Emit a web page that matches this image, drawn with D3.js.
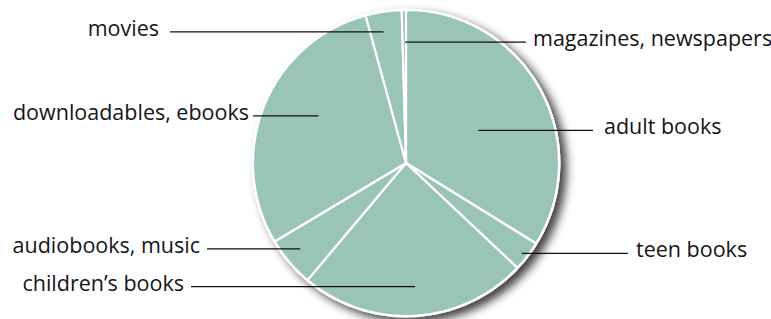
<!DOCTYPE html>
<html>
<head>
<meta charset="utf-8">
<script src="https://cdn.jsdelivr.net/npm/d3@7"></script>
<style>
  html, body { margin: 0; padding: 0; background: #fff; }
  svg { display: block; }
  text { font-family: "Open Sans", "Noto Sans", sans-serif; font-size: 21.5px; fill: #151515; }
</style>
</head>
<body>
<svg id="chart" width="771" height="319"></svg>
<script>
// Data (share of total, %), clockwise from 12 o'clock
const categories = ["adult books", "teen books", "children\u2019s books", "audiobooks, music", "downloadables, ebooks", "movies", "magazines, newspapers"];
const values = [33.8, 3.2, 24.1, 5.3, 29.3, 3.8, 0.45];

// Label layout (annotation only)
const labelSide = ["right", "right", "left", "left", "left", "left", "right"];
const labelAnchorT = [0.54, 0.54, 0.49, 0.57, 0.56, 0.41, 0.75]; // fraction across slice angle
const labelAnchorR = [0.52, 0.96, 0.81, 0.89, 0.65, 0.87, 0.79]; // fraction of radius
const labelLineEnd = [593, 628, 191, 207, 253, 170, 526];
const labelGap = [11, 8, 7, 7, 4, 11, 7];

const svg = d3.select("#chart");
const cx = 406, cy = 163, R = 153;

const defs = svg.append("defs");
const f = defs.append("filter").attr("id", "shadow")
  .attr("x", "-20%").attr("y", "-20%").attr("width", "140%").attr("height", "140%");
f.append("feGaussianBlur").attr("in", "SourceAlpha").attr("stdDeviation", 5).attr("result", "blur");
f.append("feOffset").attr("in", "blur").attr("dx", 6).attr("dy", 5).attr("result", "off");
f.append("feComponentTransfer").attr("in", "off").attr("result", "sh")
  .append("feFuncA").attr("type", "linear").attr("slope", 0.75);
const m = f.append("feMerge");
m.append("feMergeNode").attr("in", "sh");
m.append("feMergeNode").attr("in", "SourceGraphic");

const g = svg.append("g").attr("transform", `translate(${cx},${cy})`);

const pie = d3.pie().sort(null).value(d => d);
const arcs = pie(values);
const arc = d3.arc().innerRadius(0).outerRadius(R);

// background disc with white rim and shadow
g.append("circle").attr("r", R + 1.5).attr("fill", "#fff").attr("filter", "url(#shadow)");

g.selectAll("path.slice").data(arcs).enter().append("path")
  .attr("class", "slice")
  .attr("d", arc)
  .attr("fill", "#9bc4b9")
  .attr("stroke", "#fff")
  .attr("stroke-width", 2.2)
  .attr("stroke-linejoin", "round");

// leader lines and labels
arcs.forEach((a, i) => {
  const ang = a.startAngle + (a.endAngle - a.startAngle) * labelAnchorT[i];
  const r = R * labelAnchorR[i];
  const x0 = cx + r * Math.sin(ang);
  const y0 = cy - r * Math.cos(ang);
  const x1 = labelLineEnd[i];
  svg.append("line")
    .attr("x1", x0).attr("y1", y0).attr("x2", x1).attr("y2", y0)
    .attr("stroke", "#111").attr("stroke-width", 1.3);
  const right = labelSide[i] === "right";
  svg.append("text")
    .attr("x", right ? x1 + labelGap[i] : x1 - labelGap[i])
    .attr("y", y0 + 4)
    .attr("text-anchor", right ? "start" : "end")
    .text(categories[i]);
});
</script>
</body>
</html>
